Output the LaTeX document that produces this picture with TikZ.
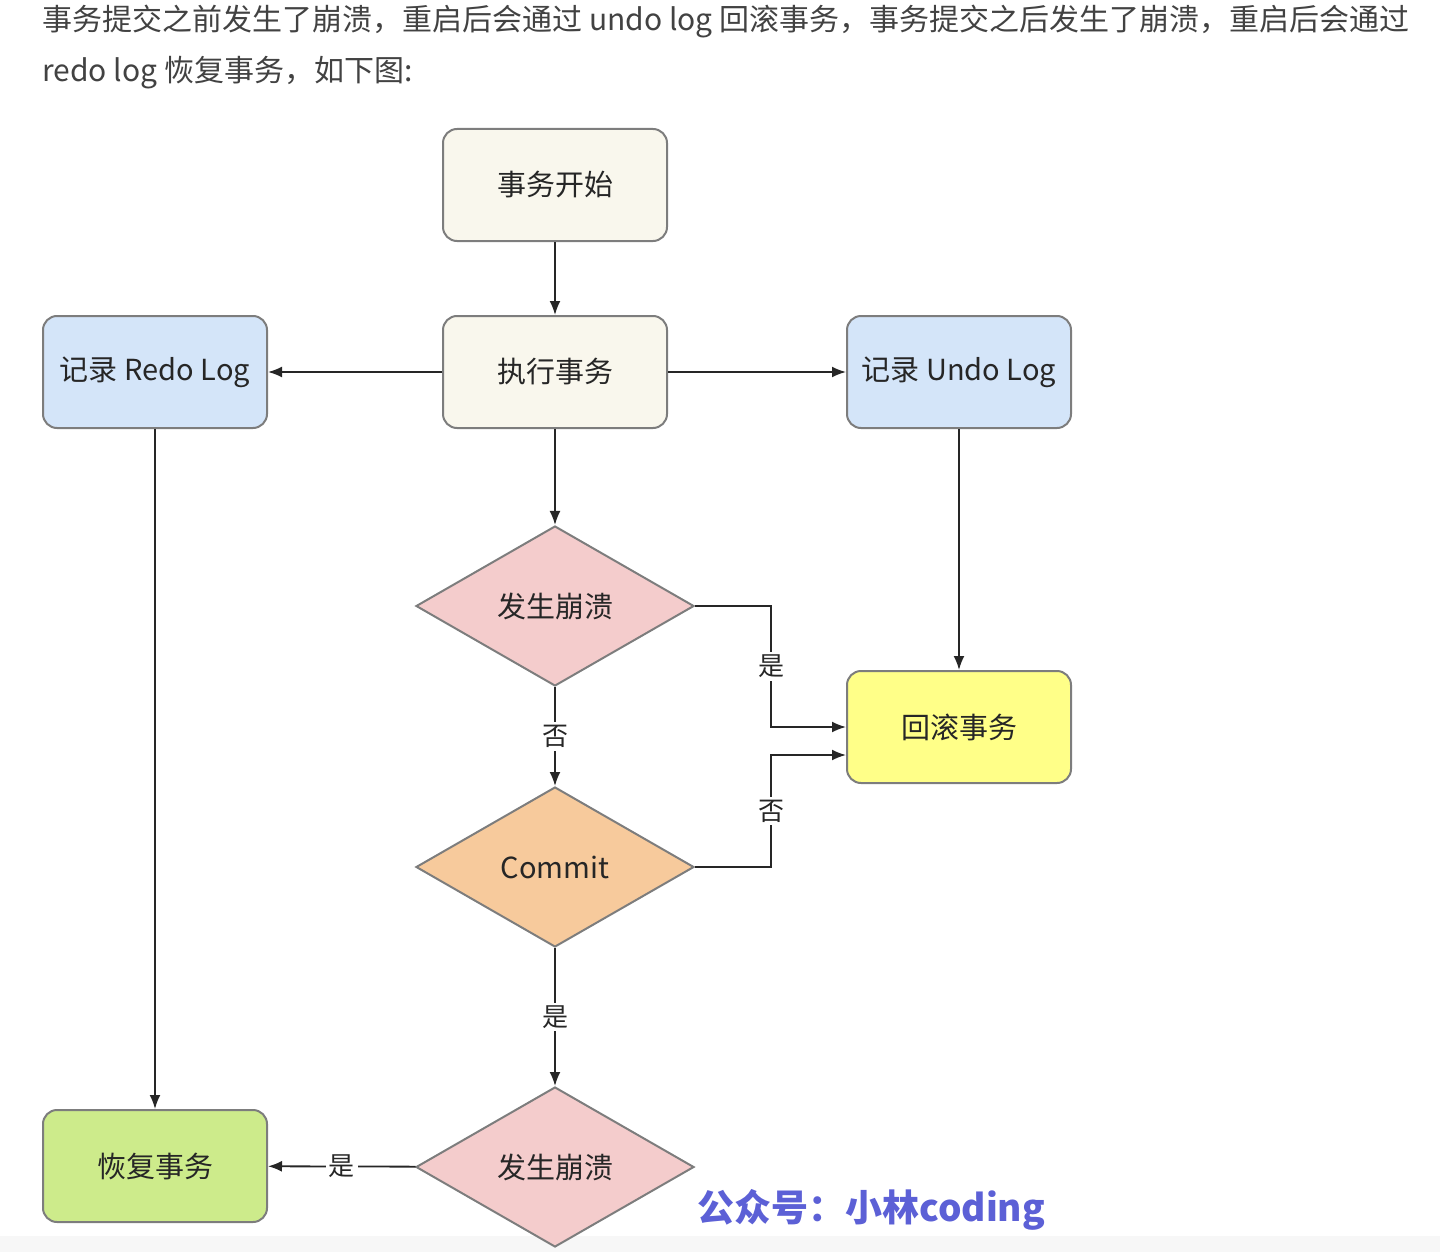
\documentclass[tikz,border=0pt]{standalone}
\usepackage{fontspec}
\setmainfont{Noto Sans CJK SC}
\usetikzlibrary{shapes.geometric}
\usetikzlibrary{arrows.meta}
\definecolor{textgray}{RGB}{66,66,66}
\definecolor{boxline}{RGB}{125,125,125}
\definecolor{startfill}{RGB}{249,247,237}
\definecolor{logfill}{RGB}{212,229,249}
\definecolor{rollfill}{RGB}{255,255,136}
\definecolor{redofill}{RGB}{205,235,139}
\definecolor{crashfill}{RGB}{244,204,204}
\definecolor{commitfill}{RGB}{247,202,156}
\definecolor{markblue}{RGB}{92,96,214}

\begin{document}
\begin{tikzpicture}[x=0.5pt, y=-0.5pt,
  box/.style={draw=boxline, line width=1pt, rounded corners=7pt, minimum width=112pt,
    minimum height=56pt, text=black!85, font=\fontsize{14.5}{16}\selectfont},
  decision/.style={diamond, draw=boxline, line width=1pt, minimum width=139pt,
    minimum height=80pt, inner sep=0pt, text=black!85, font=\fontsize{14.5}{16}\selectfont},
  flow/.style={draw=black!85, line width=0.9pt, -{Latex[length=7pt,width=5.5pt]}},
  answer/.style={fill=white, inner sep=1.5pt, text=black!85, font=\fontsize{13}{14}\selectfont}]

\useasboundingbox (0,0) rectangle (1440,1252);
\fill[black!3] (0,1236) rectangle (1440,1252);

% intro text
\node[anchor=west, inner sep=0pt, text=textgray, font=\fontsize{15}{16}\selectfont] (intro1) at (42,22)
  {事务提交之前发生了崩溃，重启后会通过 undo log 回滚事务，事务提交之后发生了崩溃，重启后会通过};
\node[anchor=west, inner sep=0pt, text=textgray, font=\fontsize{15}{16}\selectfont] (intro2) at (42,73)
  {redo log 恢复事务，如下图:};

% boxes
\node[box, fill=startfill] (start)    at (555,185)  {事务开始};
\node[box, fill=startfill] (run)      at (555,372)  {执行事务};
\node[box, fill=logfill]   (redo)     at (155,372)  {记录 Redo Log};
\node[box, fill=logfill]   (undo)     at (959,372)  {记录 Undo Log};
\node[box, fill=rollfill]  (rollback) at (959,727)  {回滚事务};
\node[box, fill=redofill]  (recover)  at (155,1166) {恢复事务};

% decisions
\node[decision, fill=crashfill]  (crash)  at (555,606)  {发生崩溃};
\node[decision, fill=commitfill] (commit) at (555,867)  {Commit};
\node[decision, fill=crashfill]  (crash2) at (555,1167) {发生崩溃};

% arrows
\draw[flow] (start) -- (run);
\draw[flow] (run) -- (redo);
\draw[flow] (run) -- (undo);
\draw[flow] (run) -- (crash);
\draw[flow] (redo) -- (recover);
\draw[flow] (undo) -- (rollback);
\draw[flow] (crash.east) -- ++(76,0) |- node[pos=0.25, answer] {是} (rollback.west);
\draw[flow] (crash) -- node[answer] {否} (commit);
\draw[flow] (commit.east) -- ++(76,0) |- node[pos=0.25, answer] {否} ([yshift=-14pt]rollback.west);
\draw[flow] (commit) -- node[answer] {是} (crash2);
\draw[flow] (crash2) -- node[answer] {是} (recover);

\node[anchor=west, inner sep=0pt, text=markblue, font=\bfseries\fontsize{18.5}{20}\selectfont] (mark) at (697,1210)
  {公众号：小林coding};

\end{tikzpicture}
\end{document}
